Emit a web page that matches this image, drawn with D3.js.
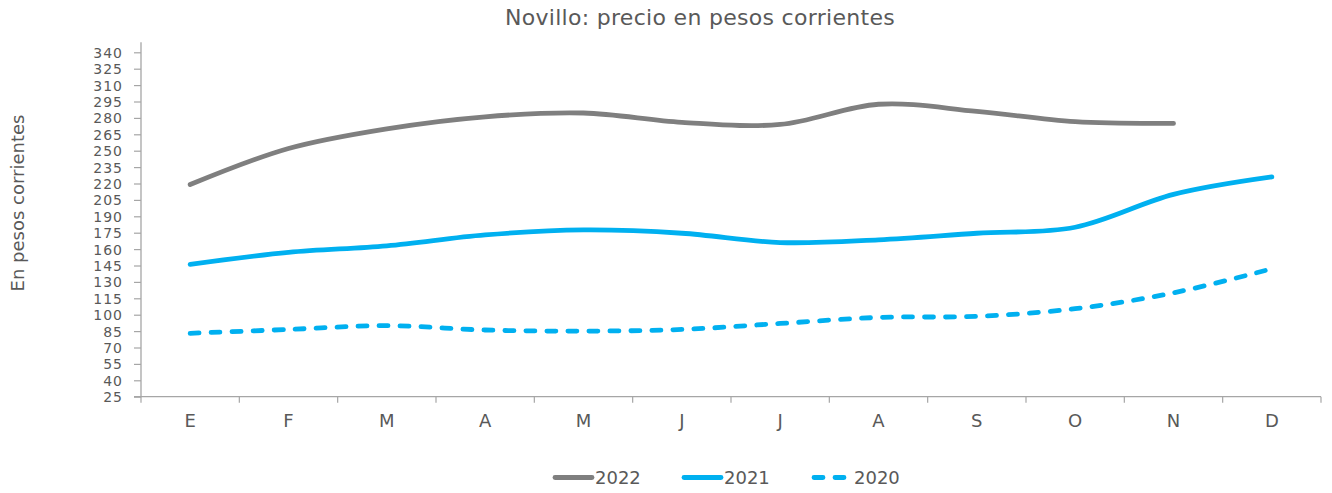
<!DOCTYPE html>
<html>
<head>
<meta charset="utf-8">
<script src="https://cdn.jsdelivr.net/npm/d3@7"></script>
<style>
  html, body { margin: 0; padding: 0; background: #ffffff; }
  svg { display: block; }
  text { font-family: "DejaVu Sans", sans-serif; fill: #595959; }
</style>
</head>
<body>
<script>
// ---- data ----
const months = ["E", "F", "M", "A", "M", "J", "J", "A", "S", "O", "N", "D"];
const values2022 = [219, 252, 270, 281, 284.5, 276, 274, 292.5, 286, 276.5, 275, null];
const values2021 = [146, 157, 163, 173, 177.5, 174.5, 166, 168.5, 174.5, 180, 210, 226];
const values2020 = [83, 86.5, 90, 86, 85, 86.5, 92, 97.5, 98.5, 105.5, 120, 142];
const seriesNames = ["2022", "2021", "2020"];
const yTicks = d3.range(25, 341, 15);
const titleText = "Novillo: precio en pesos corrientes";
const yAxisTitle = "En pesos corrientes";

const W = 1332, H = 493;
const svg = d3.select("body").append("svg").attr("width", W).attr("height", H);

const x = d3.scaleBand().domain(d3.range(months.length)).range([141, 1321]).paddingInner(0).paddingOuter(0);
const y = d3.scaleLinear().domain([25, 340]).range([396.7, 52.3]);

const axisColor = "#a6a6a6";

// title
svg.append("text").attr("x", 700).attr("y", 25).attr("text-anchor", "middle")
  .attr("font-size", 22).attr("letter-spacing", 0.3).text(titleText);

// y axis title
svg.append("text").attr("transform", "translate(24,203) rotate(-90)")
  .attr("text-anchor", "middle").attr("font-size", 18).text(yAxisTitle);

// y axis
const yAxis = d3.axisLeft(y).tickValues(yTicks).tickSize(7).tickPadding(11).tickFormat(d3.format("d"));
const gy = svg.append("g").attr("transform", "translate(141,0)").call(yAxis);
gy.select(".domain").attr("stroke", axisColor).attr("stroke-width", 1.3).attr("d", `M-7,${y(25)}H0V${y(340)-10}`);
gy.selectAll(".tick line").attr("stroke", axisColor).attr("stroke-width", 1.2);
gy.selectAll(".tick text").attr("font-size", 14).attr("letter-spacing", 1).attr("fill", "#595959").attr("dy", "0.36em")
  .style("font-family", '"DejaVu Sans", sans-serif');

// x axis
const xAxis = d3.axisBottom(x).tickFormat(i => months[i]).tickSize(0).tickPadding(18);
const gx = svg.append("g").attr("transform", `translate(0,${y(25)})`).call(xAxis);
gx.select(".domain").attr("stroke", axisColor).attr("stroke-width", 1.3).attr("d", `M141,0H1321`);
gx.selectAll(".tick text").attr("font-size", 18).attr("fill", "#595959")
  .style("font-family", '"DejaVu Sans", sans-serif');
// boundary tick marks
gx.selectAll("line.bound").data(d3.range(months.length + 1)).enter().append("line")
  .attr("class", "bound")
  .attr("x1", i => i < months.length ? x(i) : x.range()[1])
  .attr("x2", i => i < months.length ? x(i) : x.range()[1])
  .attr("y1", 0).attr("y2", 6).attr("stroke", axisColor).attr("stroke-width", 1.2);

// lines
const styles = [
  { data: values2022, color: "#7f7f7f", dash: null },
  { data: values2021, color: "#00b0f0", dash: null },
  { data: values2020, color: "#00b0f0", dash: "9,12" }
];

styles.forEach(s => {
  const pts = s.data.map((v, i) => ({ v, i })).filter(p => p.v != null);
  const l = d3.line().x(p => x(p.i) + x.bandwidth() / 2).y(p => y(p.v)).curve(d3.curveCatmullRom.alpha(0.5));
  svg.append("path").attr("d", l(pts)).attr("fill", "none")
    .attr("stroke", s.color).attr("stroke-width", 4.8)
    .attr("stroke-linecap", "round").attr("stroke-linejoin", "round")
    .attr("stroke-dasharray", s.dash);
});

// legend
const legendItems = [
  { name: seriesNames[0], color: "#7f7f7f", dash: null, x: 555 },
  { name: seriesNames[1], color: "#00b0f0", dash: null, x: 684 },
  { name: seriesNames[2], color: "#00b0f0", dash: "9,12", x: 814 }
];
const lg = svg.append("g");
legendItems.forEach(it => {
  lg.append("line").attr("x1", it.x).attr("x2", it.x + 37).attr("y1", 477.5).attr("y2", 477.5)
    .attr("stroke", it.color).attr("stroke-width", 4.8).attr("stroke-linecap", "round")
    .attr("stroke-dasharray", it.dash);
  lg.append("text").attr("x", it.x + 40).attr("y", 477.5).attr("dy", "0.36em")
    .attr("font-size", 18).text(it.name);
});
</script>
</body>
</html>
